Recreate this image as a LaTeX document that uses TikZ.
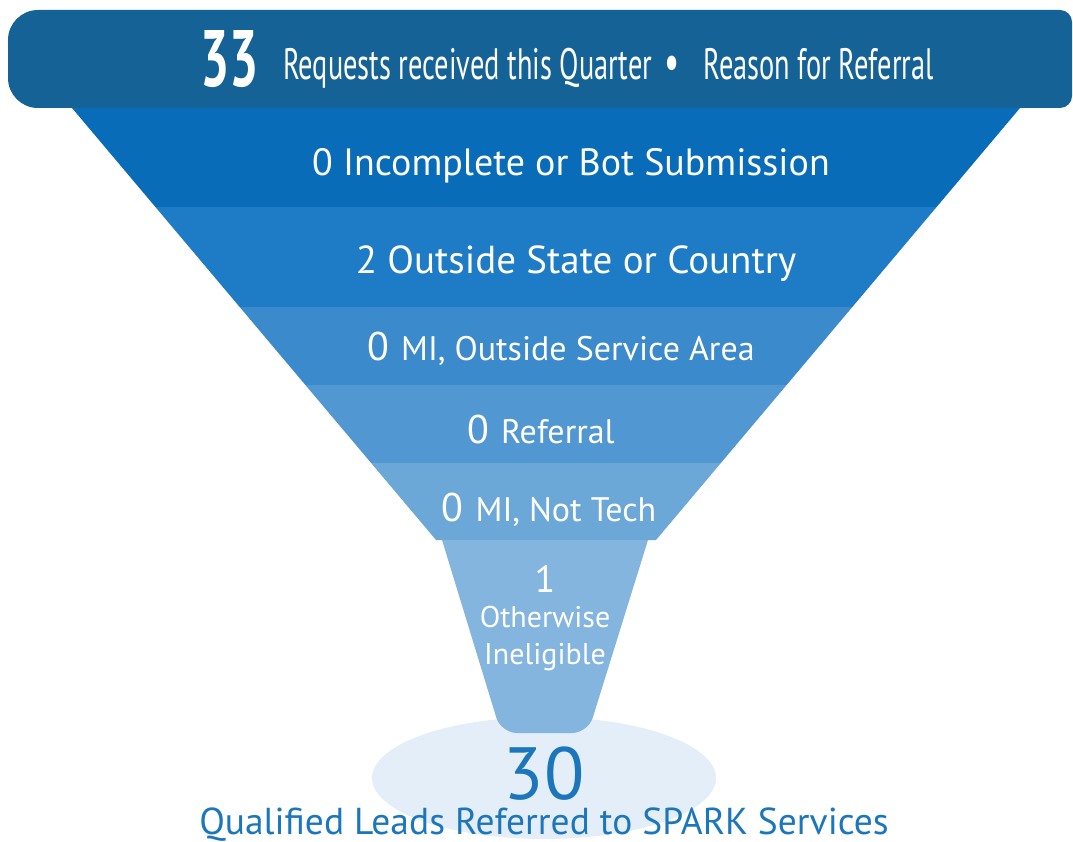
\documentclass[tikz,border=0pt]{standalone}
\usepackage{fontspec}
\setmainfont{PT Sans}
\newfontfamily\narrowfont[FakeStretch=0.645]{PT Sans}
\definecolor{headblue}{HTML}{146296}
\definecolor{stepA}{HTML}{086CB9}
\definecolor{stepB}{HTML}{1E7BC5}
\definecolor{stepC}{HTML}{3B8ACB}
\definecolor{stepD}{HTML}{5198D2}
\definecolor{stepE}{HTML}{6BA8D7}
\definecolor{neckblue}{HTML}{83B5DF}
\definecolor{poolblue}{HTML}{E4EEF8}
\definecolor{leadblue}{HTML}{1C76BC}
\newcommand{\fsz}[1]{\fontsize{#1}{#1}\selectfont}
\tikzset{x=1pt, y=-1pt,
every node/.style={ % Sets the properties for each text
inner sep=0pt,
anchor=base},
bandtext/.style={ % White text on the funnel
text=white,
font=\fsz{38}},
smalltext/.style={
text=white,
font=\fsz{34}},
leadtext/.style={ % Blue text under the funnel
text=leadblue}}

\begin{document}
\begin{tikzpicture}
\useasboundingbox (0,0) rectangle (1073,842);
% pool under the funnel
\fill[poolblue] (544,778) ellipse [x radius=172, y radius=61];
% funnel steps
\begin{scope}
\clip (72,108) -- (1020,108) -- (656,540) -- (436,540) -- cycle;
\fill[stepA] (0,100) rectangle (1073,207);
\fill[stepB] (0,207) rectangle (1073,307);
\fill[stepC] (0,307) rectangle (1073,385);
\fill[stepD] (0,385) rectangle (1073,463);
\fill[stepE] (0,463) rectangle (1073,541);
\end{scope}
\fill[neckblue] (442,540) -- (648,540) [rounded corners=16] -- (588,733) -- (501,733) [sharp corners] -- cycle;
% head band
\fill[headblue] (540,10) [rounded corners=12] -- (1072,10) -- (1072,108) [rounded corners=30] -- (8,108) -- (8,10) [sharp corners] -- cycle;
\node[text=white, font=\narrowfont\bfseries\fsz{80}, anchor=base west] (total) at (200,87) {33};
\node[text=white, font=\narrowfont\fsz{44}, anchor=base west] (received) at (283,80) {Requests received this Quarter\hspace{12pt}{\fsz{52}•}\hspace{24pt}Reason for Referral};
% reasons
\node[bandtext] (incomplete) at (571,176) {0 Incomplete or Bot Submission};
\node[bandtext, font=\fsz{39}] (outside) at (576,273) {2 Outside State or Country};
\node[smalltext] (area) at (561,360) {{\fsz{40}0}\hspace{12pt}MI, Outside Service Area};
\node[smalltext] (referral) at (541,443) {{\fsz{40}0}\hspace{12pt}Referral};
\node[smalltext] (nottech) at (549,521) {{\fsz{40}0}\hspace{12pt}MI, Not Tech};
\node[text=white, font=\fsz{38}] (one) at (545,592) {1};
\node[smalltext, font=\fsz{30}] (otherwise) at (545,627) {Otherwise};
\node[smalltext, font=\fsz{30}] (ineligible) at (545,664) {Ineligible};
% qualified leads
\node[leadtext, font=\fsz{74}] (thirty) at (544,799) {30};
\node[leadtext, font=\fsz{37.5}] (qualified) at (544,834) {Qualified Leads Referred to SPARK Services};
\end{tikzpicture}
\end{document}
